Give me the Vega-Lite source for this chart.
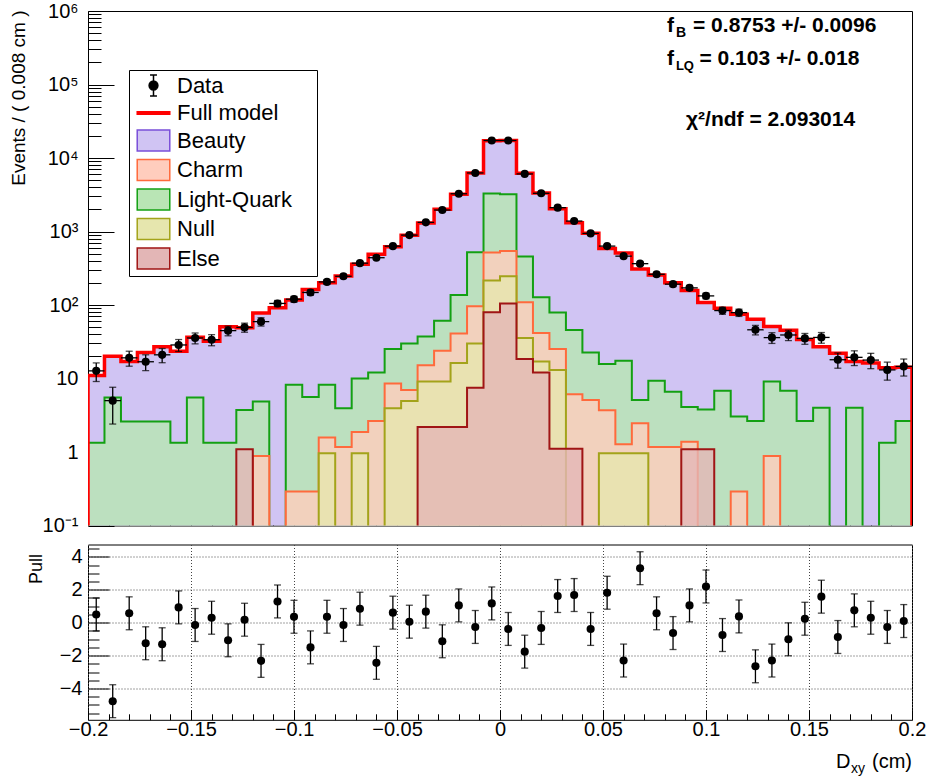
{
  "$schema": "https://vega.github.io/schema/vega-lite/v6.json",
  "autosize": {"type": "pad"},
  "padding": {"left": 8, "top": 0, "right": 10, "bottom": 5},
  "background": "white",
  "spacing": 18.5,
  "bounds": "flush",
  "config": {
    "font": "Liberation Sans",
    "view": {"stroke": "black", "strokeWidth": 1},
    "axis": {"domain": false, "grid": false, "labelFont": "Liberation Sans", "titleFont": "Liberation Sans", "labelColor": "black", "titleColor": "black", "tickColor": "black", "labelFontSize": 20, "titleFontWeight": "normal", "labelOverlap": false, "labelFlush": false, "labelBound": false, "tickWidth": 1},
    "text": {"font": "Liberation Sans", "color": "black"}
  },
  "datasets": {
    "bins": [
      {"xc": -0.196, "n": 12.7, "e": 3.6, "p": 0.5, "w": 0.004, "u": 1},
      {"xc": -0.188, "n": 5, "e": 2.6, "p": -4.77, "w": 0.004, "u": 1},
      {"xc": -0.18, "n": 19.1, "e": 4.4, "p": 0.57, "w": 0.004, "u": 1},
      {"xc": -0.172, "n": 16.9, "e": 4.1, "p": -1.25, "w": 0.004, "u": 1},
      {"xc": -0.164, "n": 21, "e": 4.6, "p": -1.31, "w": 0.004, "u": 1},
      {"xc": -0.156, "n": 28.6, "e": 5.3, "p": 0.93, "w": 0.004, "u": 1},
      {"xc": -0.148, "n": 35.6, "e": 6.0, "p": -0.14, "w": 0.004, "u": 1},
      {"xc": -0.14, "n": 33.7, "e": 5.8, "p": 0.3, "w": 0.004, "u": 1},
      {"xc": -0.132, "n": 44.8, "e": 6.7, "p": -1.07, "w": 0.004, "u": 1},
      {"xc": -0.124, "n": 49.6, "e": 7.0, "p": 0.18, "w": 0.004, "u": 1},
      {"xc": -0.116, "n": 59.4, "e": 7.7, "p": -2.32, "w": 0.004, "u": 1},
      {"xc": -0.108, "n": 105, "e": 10.2, "p": 1.29, "w": 0.004, "u": 1},
      {"xc": -0.1, "n": 120, "e": 11, "p": 0.36, "w": 0.004, "u": 1},
      {"xc": -0.092, "n": 148, "e": 12.2, "p": -1.5, "w": 0.004, "u": 1},
      {"xc": -0.084, "n": 206, "e": 14.4, "p": 0.36, "w": 0.004, "u": 1},
      {"xc": -0.076, "n": 246, "e": 15.7, "p": -0.14, "w": 0.004, "u": 1},
      {"xc": -0.068, "n": 371, "e": 19.3, "p": 0.85, "w": 0.004, "u": 1},
      {"xc": -0.06, "n": 440, "e": 21, "p": -2.44, "w": 0.004, "u": 1},
      {"xc": -0.052, "n": 632, "e": 25.1, "p": 0.61, "w": 0.004, "u": 1},
      {"xc": -0.044, "n": 893, "e": 29.9, "p": 0.06, "w": 0.004, "u": 1},
      {"xc": -0.036, "n": 1331, "e": 36.5, "p": 0.67, "w": 0.004, "u": 1},
      {"xc": -0.028, "n": 1960, "e": 44.3, "p": -1.13, "w": 0.004, "u": 1},
      {"xc": -0.02, "n": 3260, "e": 57.1, "p": 1.05, "w": 0.004, "u": 1},
      {"xc": -0.012, "n": 6260, "e": 79.1, "p": -0.26, "w": 0.004, "u": 1},
      {"xc": -0.004, "n": 17300, "e": 131.5, "p": 1.17, "w": 0.004, "u": 1},
      {"xc": 0.004, "n": 17300, "e": 131.5, "p": -0.38, "w": 0.004, "u": 1},
      {"xc": 0.012, "n": 6070, "e": 77.9, "p": -1.76, "w": 0.004, "u": 1},
      {"xc": 0.02, "n": 3310, "e": 57.5, "p": -0.32, "w": 0.004, "u": 1},
      {"xc": 0.028, "n": 2110, "e": 45.9, "p": 1.62, "w": 0.004, "u": 1},
      {"xc": 0.036, "n": 1387, "e": 37.2, "p": 1.68, "w": 0.004, "u": 1},
      {"xc": 0.044, "n": 942, "e": 30.7, "p": -0.38, "w": 0.004, "u": 1},
      {"xc": 0.052, "n": 633, "e": 25.2, "p": 1.82, "w": 0.004, "u": 1},
      {"xc": 0.06, "n": 462, "e": 21.5, "p": -2.3, "w": 0.004, "u": 1},
      {"xc": 0.068, "n": 365, "e": 19.1, "p": 3.31, "w": 0.004, "u": 1},
      {"xc": 0.076, "n": 262, "e": 16.2, "p": 0.57, "w": 0.004, "u": 1},
      {"xc": 0.084, "n": 192, "e": 13.9, "p": -0.63, "w": 0.004, "u": 1},
      {"xc": 0.092, "n": 171, "e": 13.1, "p": 1.05, "w": 0.004, "u": 1},
      {"xc": 0.1, "n": 133, "e": 11.5, "p": 2.2, "w": 0.004, "u": 1},
      {"xc": 0.108, "n": 84, "e": 9.2, "p": -0.75, "w": 0.004, "u": 1},
      {"xc": 0.116, "n": 78.8, "e": 8.9, "p": 0.38, "w": 0.004, "u": 1},
      {"xc": 0.124, "n": 46, "e": 6.8, "p": -2.65, "w": 0.004, "u": 1},
      {"xc": 0.132, "n": 36, "e": 6.0, "p": -2.3, "w": 0.004, "u": 1},
      {"xc": 0.14, "n": 39.1, "e": 6.3, "p": -1.01, "w": 0.004, "u": 1},
      {"xc": 0.148, "n": 35.1, "e": 5.9, "p": 0.24, "w": 0.004, "u": 1},
      {"xc": 0.156, "n": 36.2, "e": 6.0, "p": 1.58, "w": 0.004, "u": 1},
      {"xc": 0.164, "n": 18, "e": 4.2, "p": -0.87, "w": 0.004, "u": 1},
      {"xc": 0.172, "n": 19.4, "e": 4.4, "p": 0.75, "w": 0.004, "u": 1},
      {"xc": 0.18, "n": 17.8, "e": 4.2, "p": 0.3, "w": 0.004, "u": 1},
      {"xc": 0.188, "n": 13.1, "e": 3.6, "p": -0.26, "w": 0.004, "u": 1},
      {"xc": 0.196, "n": 14.6, "e": 3.8, "p": 0.1, "w": 0.004, "u": 1}
    ],
    "hist": [
      {"x": -0.2, "m": 11, "c": 0.001, "l": 1.34, "n": 0.001, "e": 0.001},
      {"x": -0.192, "m": 20, "c": 0.001, "l": 5.5, "n": 0.001, "e": 0.001},
      {"x": -0.184, "m": 17, "c": 0.001, "l": 2.59, "n": 0.001, "e": 0.001},
      {"x": -0.176, "m": 22.5, "c": 0.001, "l": 2.59, "n": 0.001, "e": 0.001},
      {"x": -0.168, "m": 27, "c": 0.001, "l": 2.59, "n": 0.001, "e": 0.001},
      {"x": -0.16, "m": 23.5, "c": 0.001, "l": 1.34, "n": 0.001, "e": 0.001},
      {"x": -0.152, "m": 36.5, "c": 0.001, "l": 5.5, "n": 0.001, "e": 0.001},
      {"x": -0.144, "m": 32, "c": 0.001, "l": 1.34, "n": 0.001, "e": 0.001},
      {"x": -0.136, "m": 50.5, "c": 0.001, "l": 1.34, "n": 0.001, "e": 0.001},
      {"x": -0.128, "m": 49, "c": 0.001, "l": 3.74, "n": 0.001, "e": 1.09},
      {"x": -0.12, "m": 78, "c": 0.88, "l": 4.85, "n": 0.001, "e": 0.001},
      {"x": -0.112, "m": 92, "c": 0.001, "l": 0.001, "n": 0.001, "e": 0.001},
      {"x": -0.104, "m": 117, "c": 0.29, "l": 8.2, "n": 0.001, "e": 0.001},
      {"x": -0.096, "m": 162, "c": 0.29, "l": 5.6, "n": 0.001, "e": 0.001},
      {"x": -0.088, "m": 201, "c": 1.57, "l": 8.2, "n": 0.96, "e": 0.001},
      {"x": -0.08, "m": 249, "c": 1.17, "l": 3.95, "n": 0.001, "e": 0.001},
      {"x": -0.072, "m": 358, "c": 1.87, "l": 10, "n": 0.96, "e": 0.001},
      {"x": -0.064, "m": 490, "c": 2.65, "l": 12.1, "n": 0.001, "e": 0.001},
      {"x": -0.056, "m": 618, "c": 8.55, "l": 25.2, "n": 3.95, "e": 0.001},
      {"x": -0.048, "m": 891, "c": 6.95, "l": 30, "n": 4.96, "e": 0.001},
      {"x": -0.04, "m": 1305, "c": 15.2, "l": 37.4, "n": 9.1, "e": 2.19},
      {"x": -0.032, "m": 2005, "c": 23.9, "l": 61, "n": 9.1, "e": 2.19},
      {"x": -0.024, "m": 3200, "c": 41, "l": 137, "n": 16.2, "e": 2.19},
      {"x": -0.016, "m": 6270, "c": 96, "l": 524, "n": 30, "e": 7.5},
      {"x": -0.008, "m": 17150, "c": 519, "l": 3280, "n": 215, "e": 79.6},
      {"x": 0, "m": 17350, "c": 541, "l": 3210, "n": 246, "e": 105},
      {"x": 0.008, "m": 6210, "c": 109, "l": 457, "n": 35.6, "e": 18.4},
      {"x": 0.016, "m": 3330, "c": 41.6, "l": 127, "n": 17.1, "e": 12.1},
      {"x": 0.024, "m": 2035, "c": 25.2, "l": 79, "n": 13.1, "e": 1.11},
      {"x": 0.032, "m": 1320, "c": 6.1, "l": 45.7, "n": 0.001, "e": 1.11},
      {"x": 0.04, "m": 950, "c": 5.1, "l": 22.6, "n": 0.001, "e": 0.001},
      {"x": 0.048, "m": 585, "c": 3.7, "l": 15.7, "n": 0.96, "e": 0.001},
      {"x": 0.056, "m": 510, "c": 1.27, "l": 17.4, "n": 0.96, "e": 0.001},
      {"x": 0.064, "m": 310, "c": 2.46, "l": 5.1, "n": 0.96, "e": 0.001},
      {"x": 0.072, "m": 255, "c": 1.17, "l": 9.3, "n": 0.001, "e": 0.001},
      {"x": 0.08, "m": 200, "c": 1.17, "l": 6.6, "n": 0.001, "e": 0.001},
      {"x": 0.088, "m": 158, "c": 1.38, "l": 4.1, "n": 0.001, "e": 1.09},
      {"x": 0.096, "m": 108, "c": 0.001, "l": 3.8, "n": 0.001, "e": 1.09},
      {"x": 0.104, "m": 90, "c": 0.001, "l": 6.8, "n": 0.001, "e": 0.001},
      {"x": 0.112, "m": 75, "c": 0.29, "l": 3.03, "n": 0.001, "e": 0.001},
      {"x": 0.12, "m": 64, "c": 0.001, "l": 2.65, "n": 0.001, "e": 0.001},
      {"x": 0.128, "m": 51, "c": 0.88, "l": 9.1, "n": 0.001, "e": 0.001},
      {"x": 0.136, "m": 45.4, "c": 0.001, "l": 6.8, "n": 0.001, "e": 0.001},
      {"x": 0.144, "m": 34, "c": 0.001, "l": 2.65, "n": 0.001, "e": 0.001},
      {"x": 0.152, "m": 27, "c": 0.001, "l": 4.0, "n": 0.001, "e": 0.001},
      {"x": 0.16, "m": 22, "c": 0.001, "l": 0.001, "n": 0.001, "e": 0.001},
      {"x": 0.168, "m": 17, "c": 0.001, "l": 4.0, "n": 0.001, "e": 0.001},
      {"x": 0.176, "m": 16.3, "c": 0.001, "l": 0.001, "n": 0.001, "e": 0.001},
      {"x": 0.184, "m": 14, "c": 0.001, "l": 1.34, "n": 0.001, "e": 0.001},
      {"x": 0.192, "m": 14.2, "c": 0.001, "l": 2.65, "n": 0.001, "e": 0.001},
      {"x": 0.2, "m": 14.2, "c": 0.001, "l": 2.65, "n": 0.001, "e": 0.001}
    ]
  },
  "vconcat": [
    {
      "width": 824,
      "height": 514.5,
      "layer": [
        {
          "data": {"name": "hist"},
          "mark": {"type": "area", "interpolate": "step-after", "clip": true, "fill": "#d0c4f3", "stroke": "#7a4fd9", "strokeWidth": 2, "fillOpacity": 1},
          "encoding": {
            "x": {"field": "x", "type": "quantitative", "scale": {"domain": [-0.2, 0.2], "nice": false, "zero": false},
              "axis": {"title": null, "labels": false, "tickCount": 100,
                "values": [-0.2,-0.19,-0.18,-0.17,-0.16,-0.15,-0.14,-0.13,-0.12,-0.11,-0.1,-0.09,-0.08,-0.07,-0.06,-0.05,-0.04,-0.03,-0.02,-0.01,0,0.01,0.02,0.03,0.04,0.05,0.06,0.07,0.08,0.09,0.1,0.11,0.12,0.13,0.14,0.15,0.16,0.17,0.18,0.19,0.2],
                "tickSize": -12,
                "tickDash": {"condition": {"test": "abs(datum.value*20 - round(datum.value*20)) < 0.000001", "value": [40, 0]}, "value": [7, 40]}}},
            "y": {"field": "m", "type": "quantitative", "title": "Events / ( 0.008 cm )", "scale": {"type": "log", "domain": [0.1, 1000000], "nice": false},
              "axis": {"title": "Events / ( 0.008 cm )", "titleFontSize": 19, "titleAngle": -90, "titleAlign": "right", "titleBaseline": "middle", "titleX": -70, "titleY": -1, "tickCount": 100,
                "values": [0.1,0.2,0.3,0.4,0.5,0.6,0.7,0.8,0.9,1,2,3,4,5,6,7,8,9,10,20,30,40,50,60,70,80,90,100,200,300,400,500,600,700,800,900,1000,2000,3000,4000,5000,6000,7000,8000,9000,10000,20000,30000,40000,50000,60000,70000,80000,90000,100000,200000,300000,400000,500000,600000,700000,800000,900000,1000000],
                "labelExpr": "datum.value == 1000000 ? '10⁶' : datum.value == 100000 ? '10⁵' : datum.value == 10000 ? '10⁴' : datum.value == 1000 ? '10³' : datum.value == 100 ? '10²' : datum.value == 10 ? '10' : datum.value == 1 ? '1' : datum.value == 0.1 ? '10⁻¹' : ''",
                "labelFontSize": 20, "labelPadding": 36,
                "tickSize": -26,
                "tickDash": {"condition": {"test": "indexof([0.1,1,10,100,1000,10000,100000,1000000], datum.value) >= 0", "value": [60, 0]}, "value": [13, 60]}}},
            "y2": {"datum": 0.001}
          }
        },
        {
          "data": {"name": "hist"},
          "mark": {"type": "area", "interpolate": "step-after", "clip": true, "fill": "#b9e5b5", "stroke": "#13a013", "strokeWidth": 2, "fillOpacity": 0.85},
          "encoding": {
            "x": {"field": "x", "type": "quantitative"},
            "y": {"field": "l", "type": "quantitative", "title": "Events / ( 0.008 cm )"},
            "y2": {"datum": 0.001}
          }
        },
        {
          "data": {"name": "hist"},
          "mark": {"type": "area", "interpolate": "step-after", "clip": true, "fill": "#ffcdbd", "stroke": "#ff6a3c", "strokeWidth": 2, "fillOpacity": 0.8},
          "encoding": {
            "x": {"field": "x", "type": "quantitative"},
            "y": {"field": "c", "type": "quantitative", "title": "Events / ( 0.008 cm )"},
            "y2": {"datum": 0.001}
          }
        },
        {
          "data": {"name": "hist"},
          "mark": {"type": "area", "interpolate": "step-after", "clip": true, "fill": "#e6e6ae", "stroke": "#a3a31a", "strokeWidth": 2, "fillOpacity": 0.8},
          "encoding": {
            "x": {"field": "x", "type": "quantitative"},
            "y": {"field": "n", "type": "quantitative", "title": "Events / ( 0.008 cm )"},
            "y2": {"datum": 0.001}
          }
        },
        {
          "data": {"name": "hist"},
          "mark": {"type": "area", "interpolate": "step-after", "clip": true, "fill": "#e3b6b6", "stroke": "#a01515", "strokeWidth": 2, "fillOpacity": 0.8},
          "encoding": {
            "x": {"field": "x", "type": "quantitative"},
            "y": {"field": "e", "type": "quantitative", "title": "Events / ( 0.008 cm )"},
            "y2": {"datum": 0.001}
          }
        },
        {
          "data": {"name": "hist"},
          "mark": {"type": "area", "interpolate": "step-after", "clip": true, "stroke": "#ff0000", "strokeWidth": 3.5, "fillOpacity": 0},
          "encoding": {
            "x": {"field": "x", "type": "quantitative"},
            "y": {"field": "m", "type": "quantitative", "title": "Events / ( 0.008 cm )"},
            "y2": {"datum": 0.001}
          }
        },
        {
          "data": {"name": "bins"},
          "mark": {"type": "errorbar", "orient": "horizontal", "color": "black", "rule": {"strokeWidth": 1.3}},
          "encoding": {
            "x": {"field": "xc", "type": "quantitative", "title": null},
            "xError": {"field": "w"},
            "y": {"field": "n", "type": "quantitative", "title": "Events / ( 0.008 cm )"}
          }
        },
        {
          "data": {"name": "bins"},
          "mark": {"type": "errorbar", "color": "black", "rule": {"strokeWidth": 1.3}, "ticks": {"size": 7, "thickness": 1.3}},
          "encoding": {
            "x": {"field": "xc", "type": "quantitative", "title": null},
            "y": {"field": "n", "type": "quantitative", "title": "Events / ( 0.008 cm )"},
            "yError": {"field": "e"}
          }
        },
        {
          "data": {"name": "bins"},
          "mark": {"type": "circle", "size": 66, "color": "black", "opacity": 1},
          "encoding": {
            "x": {"field": "xc", "type": "quantitative", "title": null},
            "y": {"field": "n", "type": "quantitative", "title": "Events / ( 0.008 cm )"}
          }
        },
        {
          "data": {"values": []},
          "mark": {"type": "point", "filled": true, "opacity": 1, "strokeWidth": 1.5},
          "encoding": {
            "shape": {"datum": "Data",
              "scale": {"domain": ["Data", "Full model", "Beauty", "Charm", "Light-Quark", "Null", "Else"],
                "range": ["M0,-1V1M-0.33,-1H0.33M-0.33,1H0.33M-0.42,0A0.42,0.42,0,1,1,0.42,0A0.42,0.42,0,1,1,-0.42,0Z", "M-1.55,-0.13H1.55V0.13H-1.55Z", "M-1.55,-1H1.55V1H-1.55Z", "M-1.55,-1H1.55V1H-1.55Z", "M-1.55,-1H1.55V1H-1.55Z", "M-1.55,-1H1.55V1H-1.55Z", "M-1.55,-1H1.55V1H-1.55Z"]},
              "legend": {"orient": "none", "legendX": 41, "legendY": 59, "title": "\u00a0", "titleOrient": "right", "titleFontSize": 22, "titlePadding": 21, "direction": "vertical",
                "labelFontSize": 22, "labelFont": "Liberation Sans", "labelColor": "black", "padding": 4, "rowPadding": 2.5,
                "symbolOffset": 9, "labelOffset": 12, "strokeColor": "black", "fillColor": "white", "symbolSize": 441, "symbolStrokeWidth": 1.5, "symbolOpacity": 1}},
            "fill": {"datum": "Data",
              "scale": {"domain": ["Data", "Full model", "Beauty", "Charm", "Light-Quark", "Null", "Else"], "range": ["#000000", "#ff0000", "#d0c4f3", "#ffcdbd", "#b9e5b5", "#e6e6ae", "#e3b6b6"]},
              "legend": {"orient": "none", "legendX": 41, "legendY": 59, "title": "\u00a0", "titleOrient": "right", "titleFontSize": 22, "titlePadding": 21, "direction": "vertical",
                "labelFontSize": 22, "labelFont": "Liberation Sans", "labelColor": "black", "padding": 4, "rowPadding": 2.5,
                "symbolOffset": 9, "labelOffset": 12, "strokeColor": "black", "fillColor": "white", "symbolSize": 441, "symbolStrokeWidth": 1.5, "symbolOpacity": 1}},
            "stroke": {"datum": "Data",
              "scale": {"domain": ["Data", "Full model", "Beauty", "Charm", "Light-Quark", "Null", "Else"], "range": ["#000000", "#ff0000", "#7a4fd9", "#ff6a3c", "#13a013", "#a3a31a", "#a01515"]},
              "legend": {"orient": "none", "legendX": 41, "legendY": 59, "title": "\u00a0", "titleOrient": "right", "titleFontSize": 22, "titlePadding": 21, "direction": "vertical",
                "labelFontSize": 22, "labelFont": "Liberation Sans", "labelColor": "black", "padding": 4, "rowPadding": 2.5,
                "symbolOffset": 9, "labelOffset": 12, "strokeColor": "black", "fillColor": "white", "symbolSize": 441, "symbolStrokeWidth": 1.5, "symbolOpacity": 1}}
          }
        },
        {
          "data": {"values": [{}]},
          "mark": {"type": "text", "text": "f", "fontSize": 21, "fontWeight": "bold", "align": "left", "baseline": "alphabetic"},
          "encoding": {"x": {"datum": 0.0811}, "y": {"datum": 518000}}
        },
        {
          "data": {"values": [{}]},
          "mark": {"type": "text", "text": "B", "fontSize": 14, "fontWeight": "bold", "align": "left", "baseline": "alphabetic"},
          "encoding": {"x": {"datum": 0.0854}, "y": {"datum": 443000}}
        },
        {
          "data": {"values": [{}]},
          "mark": {"type": "text", "text": "= 0.8753 +/- 0.0096", "fontSize": 21, "fontWeight": "bold", "align": "left", "baseline": "alphabetic"},
          "encoding": {"x": {"datum": 0.0937}, "y": {"datum": 518000}}
        },
        {
          "data": {"values": [{}]},
          "mark": {"type": "text", "text": "f", "fontSize": 21, "fontWeight": "bold", "align": "left", "baseline": "alphabetic"},
          "encoding": {"x": {"datum": 0.0811}, "y": {"datum": 184000}}
        },
        {
          "data": {"values": [{}]},
          "mark": {"type": "text", "text": "LQ", "fontSize": 13, "fontWeight": "bold", "align": "left", "baseline": "alphabetic"},
          "encoding": {"x": {"datum": 0.0854}, "y": {"datum": 157000}}
        },
        {
          "data": {"values": [{}]},
          "mark": {"type": "text", "text": "= 0.103 +/- 0.018", "fontSize": 21, "fontWeight": "bold", "align": "left", "baseline": "alphabetic"},
          "encoding": {"x": {"datum": 0.0968}, "y": {"datum": 184000}}
        },
        {
          "data": {"values": [{}]},
          "mark": {"type": "text", "text": "χ²/ndf = 2.093014", "fontSize": 21, "fontWeight": "bold", "align": "left", "baseline": "alphabetic"},
          "encoding": {"x": {"datum": 0.0903}, "y": {"datum": 27200}}
        }
      ]
    },
    {
      "width": 824,
      "height": 175.3,
      "layer": [
        {
          "data": {"name": "bins"},
          "mark": {"type": "circle", "size": 66, "color": "black", "opacity": 1},
          "encoding": {
            "x": {"field": "xc", "type": "quantitative", "title": null, "scale": {"domain": [-0.2, 0.2], "nice": false, "zero": false},
              "axis": {"title": null, "tickCount": 100,
                "values": [-0.2,-0.19,-0.18,-0.17,-0.16,-0.15,-0.14,-0.13,-0.12,-0.11,-0.1,-0.09,-0.08,-0.07,-0.06,-0.05,-0.04,-0.03,-0.02,-0.01,0,0.01,0.02,0.03,0.04,0.05,0.06,0.07,0.08,0.09,0.1,0.11,0.12,0.13,0.14,0.15,0.16,0.17,0.18,0.19,0.2],
                "labelExpr": "abs(datum.value*20 - round(datum.value*20)) < 0.000001 ? format(datum.value, '~g') : ''",
                "labelFontSize": 20, "labelPadding": 10,
                "tickSize": -10,
                "tickDash": {"condition": {"test": "abs(datum.value*20 - round(datum.value*20)) < 0.000001", "value": [40, 0]}, "value": [6, 40]},
                "grid": true, "gridDash": [1, 2], "gridColor": "#444", "gridWidth": 1,
                "gridOpacity": {"condition": {"test": "abs(datum.value*20 - round(datum.value*20)) < 0.000001", "value": 1}, "value": 0}}},
            "y": {"field": "p", "type": "quantitative", "title": "Pull", "scale": {"domain": [-5.9, 4.75], "nice": false, "zero": false},
              "axis": {"title": "Pull", "titleFontSize": 18, "titleAngle": -90, "titleAlign": "right", "titleBaseline": "middle", "titleX": -51.5, "titleY": 9, "tickCount": 100,
                "values": [-5.5,-5,-4.5,-4,-3.5,-3,-2.5,-2,-1.5,-1,-0.5,0,0.5,1,1.5,2,2.5,3,3.5,4,4.5],
                "labelExpr": "abs(datum.value/2 - round(datum.value/2)) < 0.000001 ? format(datum.value, 'd') : ''",
                "labelFontSize": 20, "labelPadding": 27,
                "tickSize": -21,
                "tickDash": {"condition": {"test": "abs(datum.value/2 - round(datum.value/2)) < 0.000001", "value": [60, 0]}, "value": [11, 60]},
                "grid": true, "gridDash": [1, 2], "gridColor": "#444", "gridWidth": 1,
                "gridOpacity": {"condition": {"test": "abs(datum.value/2 - round(datum.value/2)) < 0.000001", "value": 1}, "value": 0}}}
          }
        },
        {
          "data": {"name": "bins"},
          "mark": {"type": "errorbar", "color": "black", "rule": {"strokeWidth": 1.3}, "ticks": {"size": 7, "thickness": 1.3}},
          "encoding": {
            "x": {"field": "xc", "type": "quantitative", "title": null},
            "y": {"field": "p", "type": "quantitative", "title": "Pull"},
            "yError": {"field": "u"}
          }
        },
        {
          "data": {"values": [{}]},
          "mark": {"type": "text", "text": "D", "fontSize": 20, "align": "left", "baseline": "alphabetic"},
          "encoding": {"x": {"datum": 0.1631}, "y": {"datum": -8.83}}
        },
        {
          "data": {"values": [{}]},
          "mark": {"type": "text", "text": "xy", "fontSize": 14, "align": "left", "baseline": "alphabetic"},
          "encoding": {"x": {"datum": 0.1704}, "y": {"datum": -9.13}}
        },
        {
          "data": {"values": [{}]},
          "mark": {"type": "text", "text": "(cm)", "fontSize": 20, "align": "right", "baseline": "alphabetic"},
          "encoding": {"x": {"datum": 0.2}, "y": {"datum": -8.83}}
        }
      ]
    }
  ]
}
